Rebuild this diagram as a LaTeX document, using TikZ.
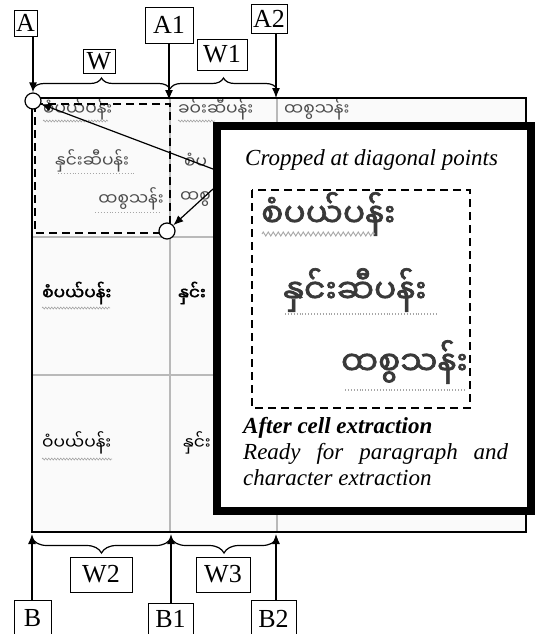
\documentclass[tikz,border=0pt]{standalone}
\usepackage{fontspec}
\setmainfont{Liberation Serif}
\newfontfamily\mmfont[Script=Myanmar]{Noto Sans Myanmar UI}
\newfontfamily\mmbold[Script=Myanmar,FakeBold=2]{Noto Sans Myanmar UI}
\usetikzlibrary{arrows.meta,calc,decorations.pathreplacing,decorations.pathmorphing}

\begin{document}
\begin{tikzpicture}[x=1pt, y=-1pt,
    tag/.style={rectangle, draw, line width=0.8pt, fill=white,
                font=\fontsize{26}{26}\selectfont, inner sep=0pt},
    conn/.style={-{Latex[length=10pt,width=8pt]}, line width=1.2pt},
    ring/.style={circle, draw, fill=white, line width=1.2pt,
                 minimum size=16pt, inner sep=0pt},
    curly/.style={decorate, decoration={brace, amplitude=11pt}, line width=1.2pt},
    curlydown/.style={curly, decoration={mirror, amplitude=15pt}},
    cellline/.style={gray!55, line width=1.2pt},
    croprect/.style={dash pattern=on 8pt off 5pt, line width=1.5pt},
    mmsmall/.style={font=\mmfont\fontsize{17}{17}\selectfont, inner sep=0pt, anchor=west},
    mmbig/.style={font=\mmbold\fontsize{33}{33}\selectfont, inner sep=0pt,
                  anchor=west, text=gray!45!black},
    wavy/.style={gray!70, line width=0.6pt, decorate,
                 decoration={zigzag, segment length=3pt, amplitude=1pt}},
    dotline/.style={gray!70, line width=0.9pt, dotted}
  ]
  \useasboundingbox (0,0) rectangle (537,634);

  % screenshot of the table
  \fill[gray!4] (32,98) rectangle (526,532);
  \draw[cellline] (170,98) -- (170,532);
  \draw[cellline] (277,98) -- (277,532);
  \draw[cellline] (32,237) -- (526,237);
  \draw[cellline] (32,375) -- (526,375);

  \node[mmsmall, text=gray!60!black] (t11) at (43,109) {စံပယ်ပန်း};
  \draw[wavy] (43,121) -- (108,121);
  \node[mmsmall, text=gray!60!black] (t12) at (55,161) {နှင်းဆီပန်း};
  \draw[dotline] (58,173) -- (135,173);
  \node[mmsmall, text=gray!60!black, anchor=east] (t13) at (164,199) {ထစွသန်း};
  \draw[dotline] (95,212) -- (160,212);
  \node[mmsmall, text=gray!60!black] (t21) at (178,109) {ခဝ်းဆီပန်း};
  \draw[wavy] (178,121) -- (215,121);
  \node[mmsmall, text=gray!60!black] (t31) at (284,109) {ထစွသန်း};
  \node[mmsmall, font=\mmbold\fontsize{17}{17}\selectfont] (r21) at (42,293) {စံပယ်ပန်း};
  \draw[wavy] (42,308) -- (110,308);
  \node[mmsmall] (r31) at (42,443) {ဝံပယ်ပန်း};
  \draw[wavy] (42,459) -- (112,459);
  % words cut by the panel
  \begin{scope}
    \clip (171,130) rectangle (214,531);
    \node[mmsmall, text=gray!60!black] (t22) at (184,161) {စံပ};
    \node[mmsmall, text=gray!60!black] (t23) at (180,199) {ထစွ};
    \node[mmsmall, font=\mmbold\fontsize{17}{17}\selectfont] (r22) at (178,293) {နှင်း};
    \node[mmsmall] (r32) at (183,443) {နှင်း};
  \end{scope}

  \draw[line width=2pt] (32,98) rectangle (526,532);
  \draw[croprect] (35,104) rectangle (170,233);

  % enlarged cell
  \node[draw, line width=6pt, fill=white, minimum width=316pt,
        minimum height=387pt] (panel) at (374,318.5) {};
  \draw[line width=1.2pt] ($(panel.north west)+(7,7)$)
    rectangle ($(panel.south east)+(-7,-7)$);
  \node[anchor=west, inner sep=0pt, font=\itshape\fontsize{23}{23}\selectfont]
    (title) at (245,160) {Cropped at diagonal points};
  \draw[croprect] (252,190) rectangle (470,408);
  \node[mmbig] (m1) at (261,214) {စံပယ်ပန်း};
  \draw[wavy, line width=0.9pt, decoration={segment length=5pt, amplitude=2pt}]
    (262,234) -- (375,234);
  \node[mmbig] (m2) at (283,290) {နှင်းဆီပန်း};
  \draw[dotline, line width=1.3pt] (285,314) -- (438,314);
  \node[mmbig, anchor=east] (m3) at (468,362) {ထစွသန်း};
  \draw[dotline, line width=1.3pt] (345,390) -- (465,390);
  \node[anchor=north west, inner sep=0pt, text width=265pt, align=justify,
        font=\itshape\fontsize{23}{26}\selectfont] (caption) at (243,417)
    {\hyphenpenalty=10000\exhyphenpenalty=10000
     \textbf{After cell extraction}\\ Ready for paragraph and character extraction};

  % diagonal points
  \node[ring] (ringTL) at (33,101) {};
  \node[ring] (ringBR) at (167,231) {};
  \draw[conn] ($(panel.north west)+(0,47)$) -- (ringTL);
  \draw[conn] ($(panel.north west)+(0,67)$) -- (ringBR);

  % column marks
  \coordinate (a1) at (169,100);
  \coordinate (a2) at (276,98);
  \coordinate (b0) at (32,534);
  \coordinate (b1) at (171,534);
  \coordinate (b2) at (276,534);

  \node[tag, minimum width=23pt, minimum height=26pt] (A) at (25.5,23) {A};
  \node[tag, minimum width=48pt, minimum height=36pt] (A1) at (169,25) {A1};
  \node[tag, minimum width=36pt, minimum height=29pt] (A2) at (269,18.5) {A2};
  \node[tag, minimum width=32pt, minimum height=24pt] (W) at (99,61) {W};
  \node[tag, minimum width=50pt, minimum height=31pt] (W1) at (222,54.5) {W1};
  \node[tag, minimum width=62pt, minimum height=35pt] (W2) at (101,574.5) {W2};
  \node[tag, minimum width=54pt, minimum height=35pt] (W3) at (223,574.5) {W3};
  \node[tag, minimum width=37pt, minimum height=36pt] (B) at (32.5,618) {B};
  \node[tag, minimum width=45pt, minimum height=32pt] (B1) at (170.5,619) {B1};
  \node[tag, minimum width=45pt, minimum height=38pt] (B2) at (273.5,619) {B2};

  \draw[conn] (A.south -| ringTL) -- (ringTL);
  \draw[conn] (A1.south -| a1) -- (a1);
  \draw[conn] (A2.south -| a2) -- (a2);
  \draw[conn] (B.north -| b0) -- (b0);
  \draw[conn] (B1.north -| b1) -- (b1);
  \draw[conn] (B2.north -| b2) -- (b2);

  \draw[curly] (33,89) -- (170,89);
  \draw[curly] (170,89) -- (277,89);
  \draw[curlydown] (32,538) -- (171,538);
  \draw[curlydown] (171,538) -- (277,538);
\end{tikzpicture}
\end{document}
